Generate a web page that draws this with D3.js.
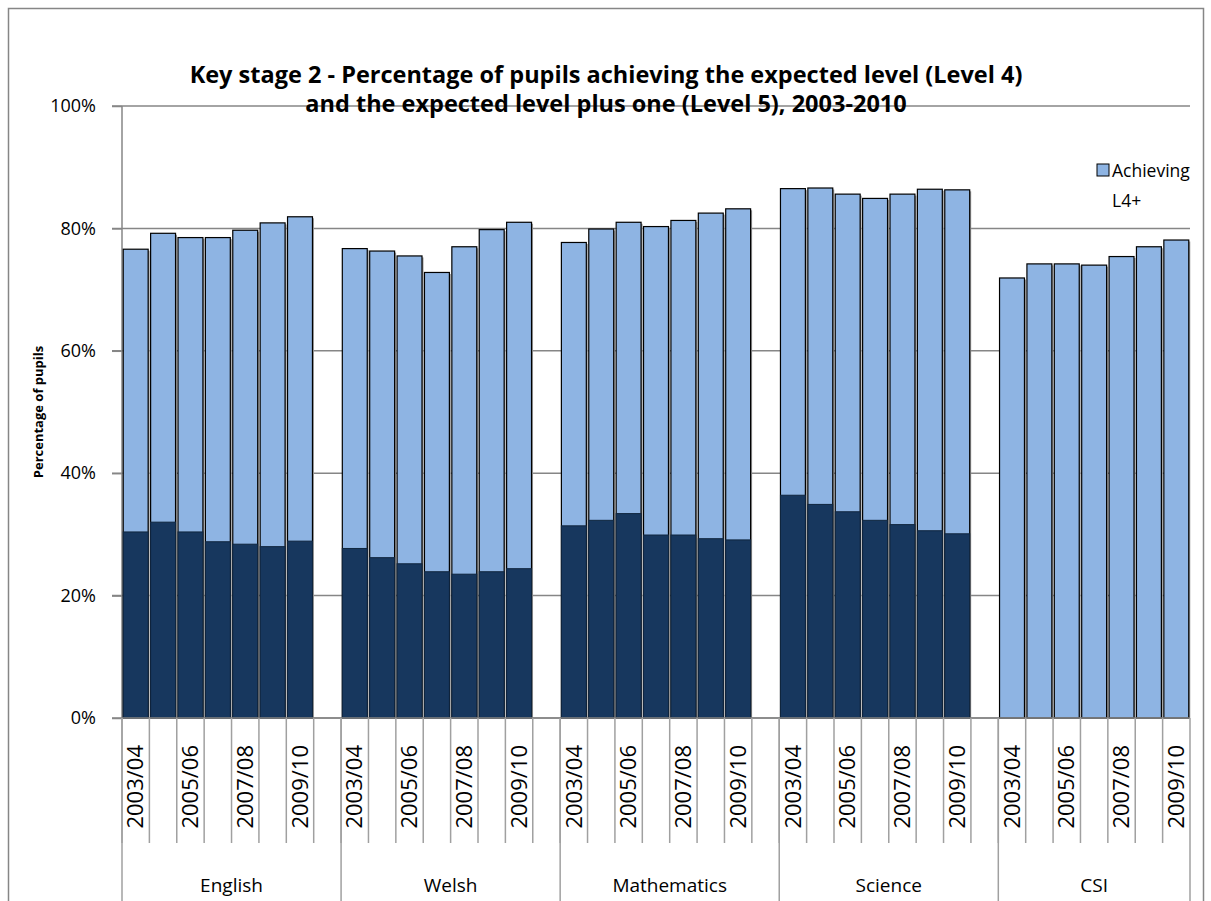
<!DOCTYPE html>
<html>
<head>
<meta charset="utf-8">
<script src="https://cdn.jsdelivr.net/npm/d3@7"></script>
<style>
  body { margin: 0; background: #fff; }
  text { font-family: "Open Sans", "Noto Sans", sans-serif; fill: #000; }
</style>
</head>
<body>
<div id="chart"></div>
<script>
const subjects = ['English', 'Welsh', 'Mathematics', 'Science', 'CSI'];
const years = ['2003/04', '2004/05', '2005/06', '2006/07', '2007/08', '2008/09', '2009/10'];

// Achieving L4+ (light bars), one row per subject
const level4Plus = [
    [76.6, 79.2, 78.5, 78.5, 79.7, 80.9, 81.9],
    [76.7, 76.3, 75.5, 72.8, 77.0, 79.8, 81.0],
    [77.7, 79.9, 81.0, 80.3, 81.3, 82.5, 83.2],
    [86.5, 86.6, 85.6, 84.9, 85.6, 86.4, 86.3],
    [71.9, 74.2, 74.2, 74.0, 75.4, 77.0, 78.1]
];

// Achieving L5+ (dark bars); CSI has none
const level5Plus = [
    [30.4, 32.0, 30.4, 28.8, 28.4, 28.0, 28.9],
    [27.7, 26.2, 25.2, 23.9, 23.5, 23.9, 24.4],
    [31.4, 32.3, 33.4, 29.9, 29.9, 29.3, 29.1],
    [36.4, 34.9, 33.7, 32.3, 31.6, 30.6, 30.1],
    [null, null, null, null, null, null, null]
];

const yTicks = [0, 20, 40, 60, 80, 100];

const W = 1211, H = 901;
const plotLeft = 122, plotRight = 1190, plotTop = 106, plotBottom = 718;

const svg = d3.select('#chart').append('svg')
    .attr('width', W)
    .attr('height', H);

// outer chart border
svg.append('rect')
    .attr('x', 8.5).attr('y', 8.5)
    .attr('width', 1195).attr('height', 910)
    .attr('fill', 'none')
    .attr('stroke', '#868686')
    .attr('stroke-width', 1.5);

// one slot per year, plus an empty slot after each subject but the last
const slots = subjects.flatMap((s, i) =>
    years.map(y => s + '|' + y).concat(i < subjects.length - 1 ? [s + '|gap'] : []));

const x = d3.scaleBand()
    .domain(slots)
    .range([plotLeft, plotRight])
    .paddingInner(0.09)
    .paddingOuter(0.045);

const y = d3.scaleLinear()
    .domain([0, 100])
    .range([plotBottom, plotTop]);

const slotStart = key => x(key) - x.step() * x.paddingOuter();

// gridlines
svg.append('g')
    .selectAll('line')
    .data(yTicks)
    .join('line')
    .attr('x1', plotLeft - 10).attr('x2', plotRight)
    .attr('y1', d => y(d)).attr('y2', d => y(d))
    .attr('stroke', '#868686')
    .attr('stroke-width', 1.5);

// y axis
const yAxis = d3.axisLeft(y)
    .tickValues(yTicks)
    .tickSize(10)
    .tickPadding(16)
    .tickFormat(d => d + '%');

const yAxisGroup = svg.append('g')
    .attr('transform', `translate(${plotLeft},0)`)
    .call(yAxis);
yAxisGroup.selectAll('path, line').attr('stroke', '#868686').attr('stroke-width', 1.5);
yAxisGroup.select('.domain').attr('d', `M0,${plotTop}V${plotBottom}`);
yAxisGroup.selectAll('text')
    .style('font-size', '18px')
    .style('font-family', '"Open Sans", sans-serif')
    .attr('fill', '#000');

svg.append('text')
    .attr('transform', 'rotate(-90)')
    .attr('x', -(plotTop + plotBottom) / 2)
    .attr('y', 43)
    .attr('text-anchor', 'middle')
    .style('font-size', '13px')
    .style('font-weight', 'bold')
    .text('Percentage of pupils');

// bars
const barData = [];
subjects.forEach((s, i) => {
    years.forEach((yr, j) => {
        barData.push({ key: s + '|' + yr, l4: level4Plus[i][j], l5: level5Plus[i][j] });
    });
});

const bars = svg.append('g');

bars.selectAll('.shadow')
    .data(barData)
    .join('rect')
    .attr('class', 'shadow')
    .attr('x', d => x(d.key) + 1.5)
    .attr('y', d => y(d.l4) + 1.5)
    .attr('width', x.bandwidth())
    .attr('height', d => plotBottom - y(d.l4) - 1.5)
    .attr('fill', '#9a9a9a');

bars.selectAll('.l4')
    .data(barData)
    .join('rect')
    .attr('class', 'l4')
    .attr('x', d => x(d.key))
    .attr('y', d => y(d.l4))
    .attr('width', x.bandwidth())
    .attr('height', d => plotBottom - y(d.l4))
    .attr('fill', '#8EB4E3')
    .attr('stroke', '#000')
    .attr('stroke-width', 1.2);

bars.selectAll('.l5')
    .data(barData.filter(d => d.l5 != null))
    .join('rect')
    .attr('class', 'l5')
    .attr('x', d => x(d.key))
    .attr('y', d => y(d.l5))
    .attr('width', x.bandwidth())
    .attr('height', d => plotBottom - y(d.l5))
    .attr('fill', '#17375E')
    .attr('stroke', '#10263f')
    .attr('stroke-width', 1);

// category axis: slot ticks and subject separators
const axisG = svg.append('g');

axisG.append('line')
    .attr('x1', plotLeft).attr('x2', plotRight)
    .attr('y1', plotBottom).attr('y2', plotBottom)
    .attr('stroke', '#868686')
    .attr('stroke-width', 1.5);

axisG.selectAll('.slot-tick')
    .data(slots)
    .join('line')
    .attr('class', 'slot-tick')
    .attr('x1', d => slotStart(d)).attr('x2', d => slotStart(d))
    .attr('y1', plotBottom).attr('y2', 843)
    .attr('stroke', '#a0a0a0')
    .attr('stroke-width', 1.5);

const groupEdges = subjects.map(s => slotStart(s + '|' + years[0])).concat([plotRight]);

axisG.selectAll('.group-tick')
    .data(groupEdges)
    .join('line')
    .attr('class', 'group-tick')
    .attr('x1', d => d).attr('x2', d => d)
    .attr('y1', plotBottom).attr('y2', H)
    .attr('stroke', '#a0a0a0')
    .attr('stroke-width', 1.5);

// year labels, every other one
axisG.selectAll('.year-label')
    .data(barData.filter((d, i) => (i % years.length) % 2 === 0))
    .join('text')
    .attr('class', 'year-label')
    .attr('transform', d => `translate(${x(d.key) + x.bandwidth() / 2},${plotBottom + 27}) rotate(-90)`)
    .attr('text-anchor', 'end')
    .attr('dy', '0.35em')
    .style('font-size', '22px')
    .text(d => d.key.split('|')[1]);

// subject labels
axisG.selectAll('.group-label')
    .data(subjects)
    .join('text')
    .attr('class', 'group-label')
    .attr('x', (s, i) => (groupEdges[i] + groupEdges[i + 1]) / 2)
    .attr('y', 892)
    .attr('text-anchor', 'middle')
    .style('font-size', '19px')
    .text(d => d);

// title
const title = svg.append('text')
    .attr('x', 606)
    .attr('text-anchor', 'middle')
    .style('font-size', '23.5px')
    .style('font-weight', 'bold');
title.append('tspan').attr('x', 606).attr('y', 83)
    .text('Key stage 2 - Percentage of pupils achieving the expected level (Level 4)');
title.append('tspan').attr('x', 606).attr('y', 112)
    .text('and the expected level plus one (Level 5), 2003-2010');

// legend
const legend = svg.append('g').attr('transform', 'translate(1097,164)');
legend.append('rect')
    .attr('width', 12).attr('height', 12)
    .attr('fill', '#8EB4E3')
    .attr('stroke', '#000')
    .attr('stroke-width', 1);
legend.append('text')
    .attr('x', 15).attr('y', 13)
    .style('font-size', '17.5px')
    .text('Achieving');
legend.append('text')
    .attr('x', 15).attr('y', 43)
    .style('font-size', '17.5px')
    .text('L4+');
</script>
</body>
</html>
